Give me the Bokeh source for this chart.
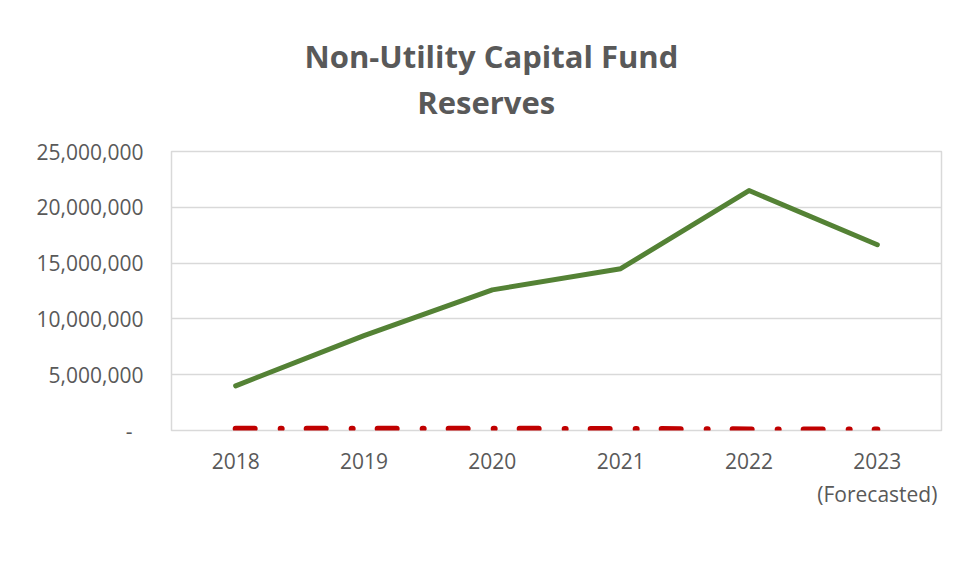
from bokeh.plotting import figure
from bokeh.models import (Range1d, FactorRange, FixedTicker, NumeralTickFormatter,
                          Legend, LegendItem)
from bokeh.embed import file_html
from bokeh.resources import INLINE

# ---- data ----
years = ["2018", "2019", "2020", "2021", "2022", "2023\n(Forecasted)"]
actual_reserves = [4_000_000, 8_500_000, 12_600_000, 14_500_000, 21_500_000, 16_650_000]
target_reserve = [150_000, 150_000, 150_000, 140_000, 100_000, 100_000]
y_ticks = [0, 5_000_000, 10_000_000, 15_000_000, 20_000_000, 25_000_000]
y_tick_zero_label = "-\u00a0\u00a0"
title_lines = ["Non-Utility Capital Fund", "Reserves"]

FONT = "Open Sans"
TXT = "#595959"
GRID = "#d9d9d9"

p = figure(frame_width=770, frame_height=279,
           x_range=FactorRange(factors=years),
           y_range=Range1d(y_ticks[0], y_ticks[-1]),
           output_backend="svg", toolbar_location=None,
           min_border_left=171, min_border_right=19,
           min_border_top=151, min_border_bottom=151)

# two-line title, second line centred under the first
p.title.text = title_lines[0] + "\n" + "\u00a0" * 14 + title_lines[1]
p.title.align = "left"
p.title.offset = 133
p.title.text_font = FONT
p.title.text_font_size = "31px"
p.title.text_font_style = "bold"
p.title.text_color = TXT
p.title.text_line_height = 1.1
p.title.standoff = 57

r_actual = p.line(years, actual_reserves, line_color="#548235", line_width=5,
                  line_cap="round", line_join="round")
r_target = p.line(years, target_reserve, line_color="#C00000", line_width=6,
                  line_dash="19 26 1 25", line_cap="round")

# axes
p.yaxis.ticker = FixedTicker(ticks=y_ticks)
p.yaxis.formatter = NumeralTickFormatter(format="0,0")
p.yaxis.major_label_overrides = {0: y_tick_zero_label}
for ax in (p.xaxis[0], p.yaxis[0]):
    ax.axis_line_color = None
    ax.major_tick_line_color = None
    ax.minor_tick_line_color = None
    ax.major_label_text_font = FONT
    ax.major_label_text_font_size = "21px"
    ax.major_label_text_color = TXT
p.yaxis.major_label_standoff = 22
p.xaxis.major_label_standoff = 10

p.xgrid.grid_line_color = None
p.ygrid.grid_line_color = GRID
p.ygrid.grid_line_width = 1.5
p.outline_line_color = GRID
p.outline_line_width = 1.5
p.background_fill_color = "white"
p.border_fill_color = "white"

legend = Legend(items=[LegendItem(label="Actual Reserves", renderers=[r_actual]),
                       LegendItem(label="Target Reserve", renderers=[r_target])],
                orientation="horizontal", location=(78, 23))
legend.label_text_font = FONT
legend.label_text_font_size = "21px"
legend.label_text_color = TXT
legend.glyph_width = 70
legend.glyph_height = 20
legend.label_standoff = 6
legend.spacing = 34
legend.border_line_color = None
legend.background_fill_alpha = 0
legend.margin = 0
legend.padding = 0
p.add_layout(legend, "below")

open("out.html", "w").write(file_html(p, INLINE))
